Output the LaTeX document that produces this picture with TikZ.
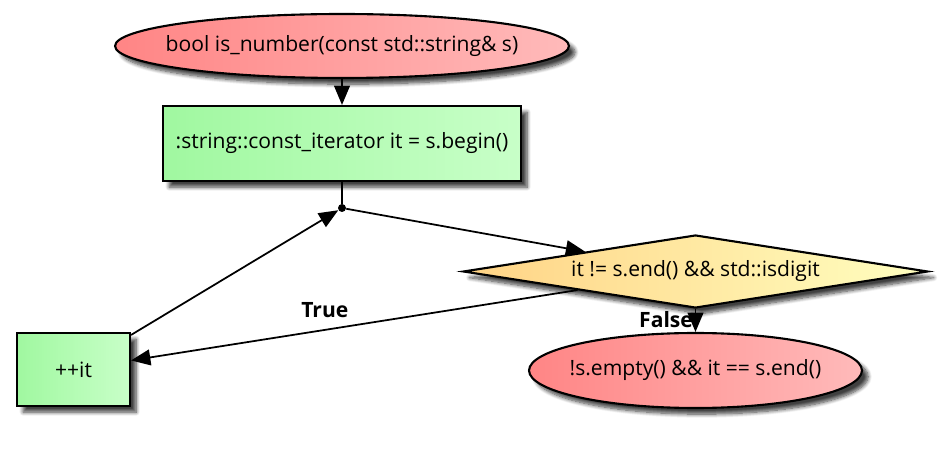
\documentclass[tikz,border=0pt]{standalone}
\usepackage{fontspec}
\setmainfont{Open Sans}
\usetikzlibrary{shapes.geometric,arrows.meta,shadows.blur}

\definecolor{termL}{HTML}{FF8585}
\definecolor{termR}{HTML}{FFBABA}
\definecolor{procL}{HTML}{A0F8A0}
\definecolor{procR}{HTML}{C8FFC8}
\definecolor{decL}{HTML}{FFD385}
\definecolor{decR}{HTML}{FFFFC0}

\begin{document}
\begin{tikzpicture}[x=0.02cm,y=-0.02cm,font=\fontsize{12}{14}\selectfont,
    base/.style={draw=black,line width=1.2pt,inner sep=0pt,
        blur shadow={shadow xshift=3.5pt,shadow yshift=-3.5pt,shadow blur steps=8,shadow opacity=75}},
    term/.style={base,ellipse,left color=termL,right color=termR},
    proc/.style={base,rectangle,left color=procL,right color=procR},
    dec/.style={base,diamond,left color=decL,right color=decR},
    flow/.style={-{Triangle[length=11pt,width=9pt]},line width=1pt},
    lbl/.style={font=\fontsize{12}{14}\selectfont\bfseries}]
    \useasboundingbox (0,0) rectangle (943,452);
    % nodes
    \node[term,minimum width=9.08cm,minimum height=1.28cm] (start) at (342,46)
        {\makebox[0pt]{bool is\_number(const std::string\& s)}};
    \node[proc,minimum width=7.16cm,minimum height=1.5cm] (init) at (342,143.5)
        {:string::const\_iterator it = s.begin()};
    \node[circle,fill=black,inner sep=0pt,minimum size=0.16cm] (join) at (342,208) {};
    \node[dec,minimum width=9.3cm,minimum height=1.46cm] (cond) at (695.5,271.5)
        {\makebox[0pt]{it != s.end() \&\& std::isdigit}};
    \node[proc,minimum width=2.26cm,minimum height=1.46cm] (inc) at (73.5,369.5) {++it};
    \node[term,minimum width=6.66cm,minimum height=1.5cm] (ret) at (695.5,370.5)
        {\makebox[0pt]{!s.empty() \&\& it == s.end()}};
    % edges
    \draw[flow] (start) -- (init);
    \draw[line width=1pt] (init) -- (join);
    \draw[flow] (join) -- (cond);
    \draw[flow] (cond) -- node[lbl,pos=0.566,yshift=0.4cm] {True} (inc);
    \draw[flow] (inc) -- (join);
    \draw[flow] (cond) -- node[lbl,left,pos=0.45,inner sep=1pt] {False} (ret);
\end{tikzpicture}
\end{document}
